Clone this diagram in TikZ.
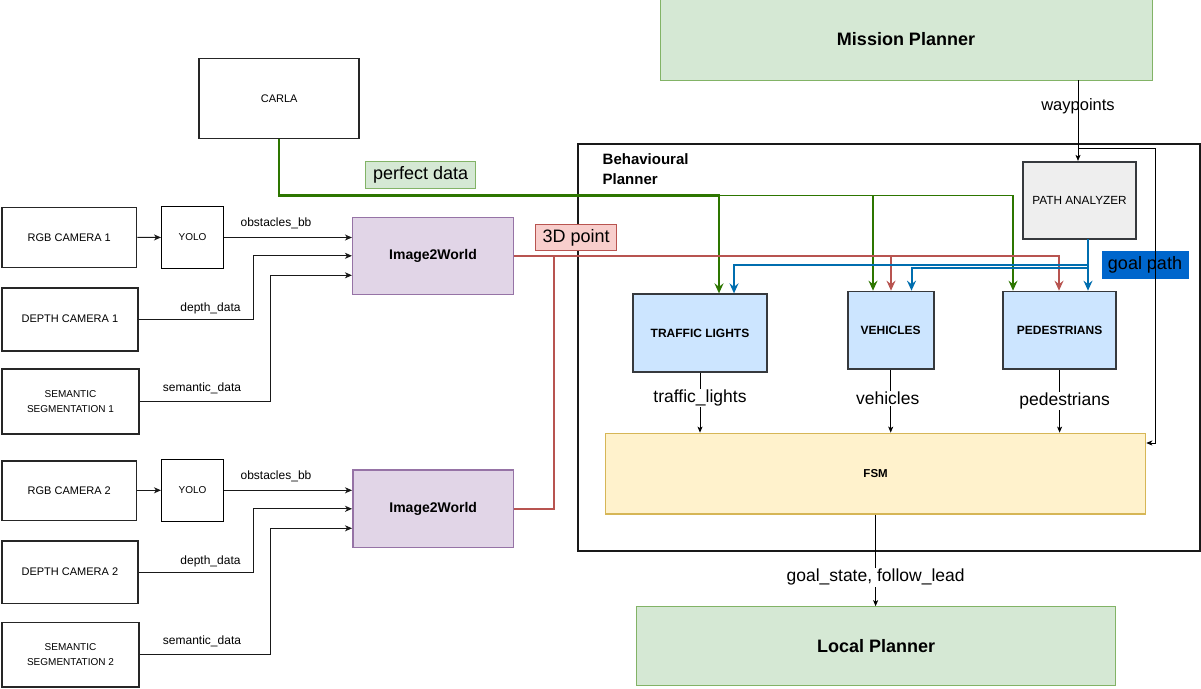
\documentclass[tikz,border=0pt]{standalone}
\usepackage{fontspec}
\setmainfont{Liberation Sans}
\usetikzlibrary{arrows.meta,calc}
\definecolor{gfill}{HTML}{D5E8D4}
\definecolor{gdraw}{HTML}{82B366}
\definecolor{pfill}{HTML}{E1D5E7}
\definecolor{pdraw}{HTML}{9673A6}
\definecolor{bfill}{HTML}{CCE5FF}
\definecolor{bdraw}{HTML}{36393D}
\definecolor{yfill}{HTML}{FFF2CC}
\definecolor{ydraw}{HTML}{D6B656}
\definecolor{rline}{HTML}{B85450}
\definecolor{rfill}{HTML}{F8CECC}
\definecolor{gline}{HTML}{2D7600}
\definecolor{bline}{HTML}{006EAF}
\definecolor{gpfill}{HTML}{0066CC}
\definecolor{grfill}{HTML}{EEEEEE}
\newcommand\fsz[2]{\fontsize{#1pt}{#2pt}\selectfont}
\begin{document}
\begin{tikzpicture}[x=1pt,y=-1pt,
 cam/.style={draw=black!85, line width=1.6pt, fill=white, inner sep=0pt, align=center, font=\fsz{11}{14}},
 yolo/.style={draw=black, line width=1pt, fill=white, inner sep=0pt, font=\fsz{10}{12}},
 i2w/.style={draw=pdraw, fill=pfill, line width=1.5pt, inner sep=0pt, font=\bfseries\fsz{14}{16}},
 bbox/.style={draw=bdraw, fill=bfill, line width=1.8pt, inner sep=0pt, font=\bfseries\fsz{12}{14}},
 arr/.style={draw=black!90, line width=1pt, -{Stealth[length=7pt,width=6pt,inset=2pt]}},
 arrs/.style={draw=black, line width=0.8pt, -{Stealth[length=6pt,width=5pt,inset=1.5pt]}},
 grn/.style={draw=gline, -{Stealth[length=10pt,width=9pt,inset=3.5pt]}},
 rd/.style={draw=rline, -{Stealth[length=10pt,width=9pt,inset=3.5pt]}},
 blu/.style={draw=bline, line width=2pt, -{Stealth[length=10pt,width=9pt,inset=3.5pt]}},
 lbl/.style={font=\fsz{12}{14}, inner sep=0pt},
 big/.style={font=\fsz{17.5}{20}, inner sep=1pt},
]
\useasboundingbox (0,0) rectangle (1201,688);
\fill[white] (0,0) rectangle (1201,688);

% containers and boxes
\node[draw=black!90, line width=2pt, minimum width=622pt, minimum height=407pt, inner sep=0pt] (behav) at (889,347.5) {};
\node[anchor=north west, align=left, font=\bfseries\fsz{15}{20}, inner sep=0pt] (bpl) at (602.5,153) {Behavioural\\Planner};

\node[draw=gdraw, fill=gfill, line width=1pt, minimum width=492pt, minimum height=81pt, inner sep=0pt, font=\bfseries\fsz{18}{20}] (mission) at (906,39.5) {Mission Planner};
\node[cam, minimum width=160pt, minimum height=80pt] (carla) at (279.2,98.3) {CARLA};

\node[cam, minimum width=134.6pt, minimum height=60pt] (rgb1) at (69.3,237.3) {RGB CAMERA 1};
\node[yolo, minimum width=62pt, minimum height=61.6pt] (yolo1) at (192.5,237.5) {YOLO};
\node[i2w, minimum width=160.6pt, minimum height=77pt] (i2w1) at (433,255.8) {Image2World};
\node[cam, minimum width=135.8pt, minimum height=63pt] (depth1) at (69.9,319.2) {DEPTH CAMERA 1};
\node[cam, minimum width=137pt, minimum height=64.7pt, font=\fsz{10}{15}] (sem1) at (70.5,401.6) {SEMANTIC\\SEGMENTATION 1};

\node[cam, minimum width=134.6pt, minimum height=59.7pt] (rgb2) at (69.3,490.8) {RGB CAMERA 2};
\node[yolo, minimum width=62pt, minimum height=62pt] (yolo2) at (192.5,490.3) {YOLO};
\node[i2w, minimum width=160.8pt, minimum height=77.7pt] (i2w2) at (433.2,508.8) {Image2World};
\node[cam, minimum width=135.8pt, minimum height=62.3pt] (depth2) at (69.9,572.2) {DEPTH CAMERA 2};
\node[cam, minimum width=137pt, minimum height=64.4pt, font=\fsz{10}{15}] (sem2) at (70.5,654.5) {SEMANTIC\\SEGMENTATION 2};

\node[draw=bdraw, fill=grfill, line width=1.8pt, minimum width=113pt, minimum height=77pt, inner sep=0pt, font=\fsz{11.8}{14}] (pa) at (1079.5,200.3) {PATH ANALYZER};
\node[bbox, minimum width=134pt, minimum height=77.5pt] (tl) at (700,333) {TRAFFIC LIGHTS};
\node[bbox, minimum width=85.8pt, minimum height=77.5pt] (veh) at (890.7,330.3) {VEHICLES};
\node[bbox, minimum width=112.6pt, minimum height=77.5pt] (ped) at (1059.6,330.3) {PEDESTRIANS};
\node[draw=ydraw, fill=yfill, line width=1.5pt, minimum width=539.8pt, minimum height=80.7pt, inner sep=0pt, font=\bfseries\fsz{11.5}{14}] (fsm) at (875.6,473.7) {FSM};
\node[draw=gdraw, fill=gfill, line width=1pt, minimum width=478.5pt, minimum height=79.3pt, inner sep=0pt, font=\bfseries\fsz{18}{20}] (local) at (876.2,646.3) {Local Planner};

% green: perfect data
\coordinate (gA) at (719,195.5);
\coordinate (gB) at (873,195.5);
\coordinate (gC) at (1013,195.5);
\draw[grn, line width=1.3pt] (carla.south) |- (gC) -- (gC |- ped.north);
\draw[grn, line width=1.8pt] (carla.south) |- (gB) -- (gB |- veh.north);
\draw[grn, line width=2.4pt] (carla.south) |- (gA) -- (gA |- tl.north);
\node[draw=gdraw, fill=gfill, line width=0.8pt, minimum width=110pt, minimum height=27pt, inner sep=0pt, font=\fsz{18}{20}] (pdl) at (420.7,175.3) {perfect data};

% red: 3D point
\coordinate (rA) at (891,256);
\coordinate (rB) at (1059,256);
\coordinate (rJ) at (553.8,256);
\draw[rd, line width=1.3pt] (i2w1.east |- rA) -- (rB) -- (rB |- ped.north);
\draw[rd, line width=2pt] (i2w1.east |- rA) -- (rA) -- (rA |- veh.north);
\draw[draw=rline, line width=2pt] (i2w2.east) -| (rJ);
\node[draw=rline, fill=rfill, line width=0.8pt, minimum width=81pt, minimum height=26.7pt, inner sep=0pt, font=\fsz{18}{20}] (tdp) at (576.2,237.4) {3D point};

% blue: goal path
\coordinate (bS) at (1088,239);
\coordinate (bA) at (1088,265);
\coordinate (bA2) at (734,265);
\coordinate (bB) at (1088,267.5);
\coordinate (bB2) at (911.5,267.5);
\draw[blu] (bS) -- (bA) -- (bA2) -- (bA2 |- tl.north);
\draw[blu] (bS) -- (bB) -- (bB2) -- (bB2 |- veh.north);
\draw[blu] (bS) -- (bS |- ped.north);
\node[draw=gpfill, fill=gpfill, minimum width=86pt, minimum height=27pt, inner sep=0pt, font=\fsz{18}{20}] (gpl) at (1145,264.5) {goal path};

% camera row 1
\draw[arr] (rgb1) -- (yolo1);
\draw[arr] (yolo1.east) -- (yolo1.east -| i2w1.west);
\node[lbl] (ob1) at (276,223) {obstacles\_bb};
\draw[arr] (depth1.east) -| ($(i2w1.west)+(-98.5,0)$) -- (i2w1.west);
\node[lbl] (dd1) at (210.5,308.5) {depth\_data};
\draw[arr] (sem1.east) -| ($(i2w1.west)+(-81.7,19.5)$) -- ($(i2w1.west)+(0,19.5)$);
\node[lbl] (sd1) at (202,388.5) {semantic\_data};

% camera row 2
\draw[arr] (rgb2.east |- yolo2.west) -- (yolo2.west);
\draw[arr] (yolo2.east) -- (yolo2.east -| i2w2.west);
\node[lbl] (ob2) at (276,476.5) {obstacles\_bb};
\draw[arr] (depth2.east) -| ($(i2w2.west)+(-98.5,0)$) -- (i2w2.west);
\node[lbl] (dd2) at (210.5,561.5) {depth\_data};
\draw[arr] (sem2.east) -| ($(i2w2.west)+(-81.7,19.5)$) -- ($(i2w2.west)+(0,19.5)$);
\node[lbl] (sd2) at (202,641.5) {semantic\_data};

% waypoints
\coordinate (wp) at (1078,80);
\coordinate (wq) at (1078,148.5);
\coordinate (wr) at (1155,148.5);
\coordinate (ws) at (1155,443);
\draw[arrs] (wp) -- (wp |- pa.north) node[pos=0.33, font=\fsz{16.5}{18}, inner sep=0pt] {waypoints};
\draw[arrs] (wq) -- (wr) -- (ws) -- (ws -| fsm.east);

% to FSM
\draw[arrs] (tl.south) -- (tl.south |- fsm.north) node[big, pos=0.42, fill=white] {traffic\_lights};
\draw[arrs] (veh.south) -- (veh.south |- fsm.north) node[big, pos=0.45, fill=white, xshift=-3pt] {vehicles};
\draw[arrs] (ped.south) -- (ped.south |- fsm.north) node[big, pos=0.5, fill=white, xshift=5pt] {pedestrians};

% to local planner
\draw[arrs] (fsm.south) -- (fsm.south |- local.north) node[big, pos=0.685, fill=white] {goal\_state, follow\_lead};
\end{tikzpicture}
\end{document}
